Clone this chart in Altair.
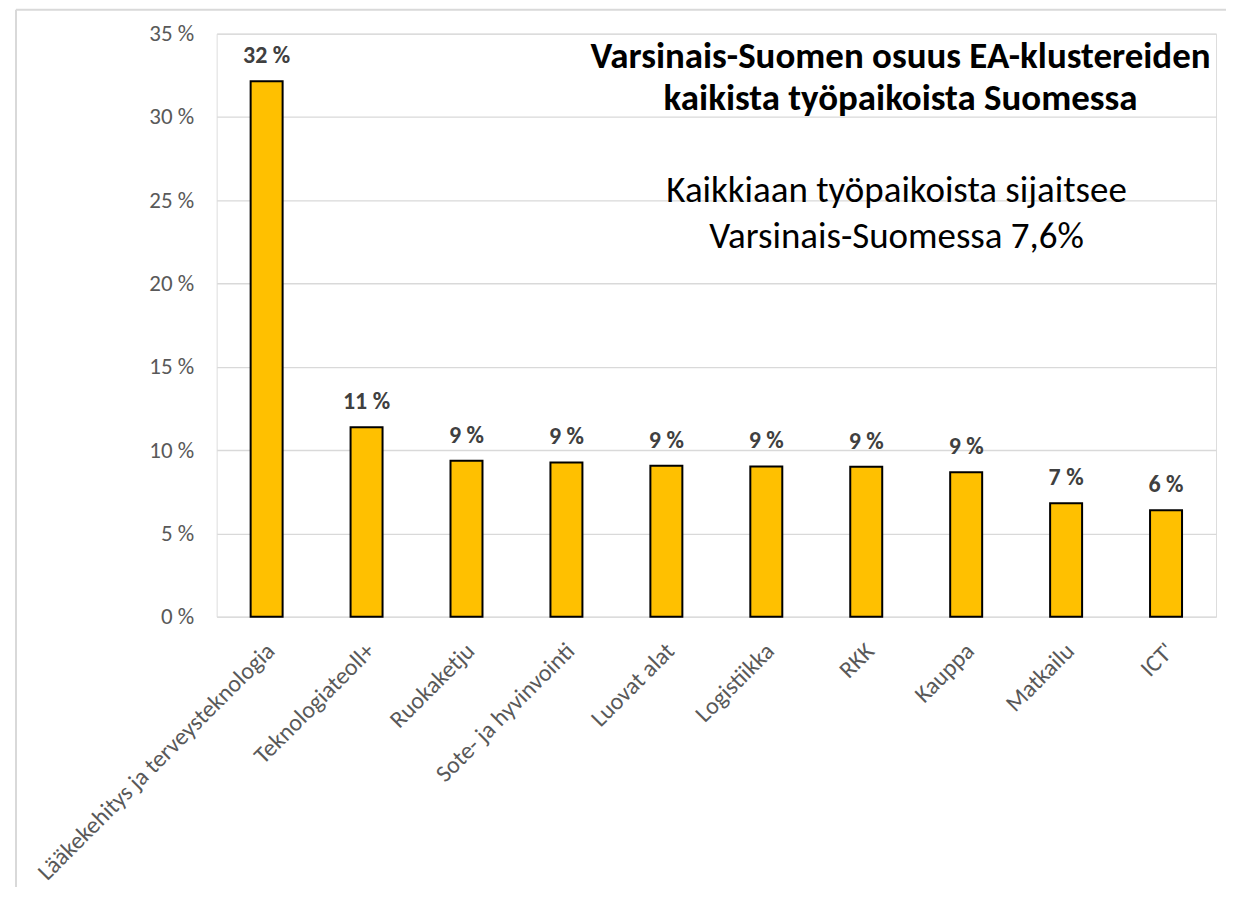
import altair as alt
import pandas as pd

categories = ["Lääkekehitys ja terveysteknologia", "Teknologiateoll+", "Ruokaketju",
              "Sote- ja hyvinvointi", "Luovat alat", "Logistiikka", "RKK", "Kauppa",
              "Matkailu", "ICT'"]
values = [32.15, 11.38, 9.36, 9.26, 9.06, 9.02, 9.0, 8.68, 6.81, 6.39]
y_ticks = [0, 5, 10, 15, 20, 25, 30, 35]
title_lines = ["Varsinais-Suomen osuus EA-klustereiden", "kaikista työpaikoista Suomessa"]
note_lines = ["Kaikkiaan työpaikoista sijaitsee", "Varsinais-Suomessa 7,6%"]

df = pd.DataFrame({"cat": categories, "val": values})
df["label"] = [f"{round(v)} %" for v in values]
one = pd.DataFrame({"k": [0]})

FONT = "Carlito, Lato, sans-serif"
W, H = 1001, 584

x = alt.X("cat:N", sort=categories, title=None,
          scale=alt.Scale(paddingInner=0.68, paddingOuter=0.34),
          axis=alt.Axis(labelAngle=-45, labelFontSize=24, labelColor="#595959",
                        labelFont=FONT, ticks=False, domain=False, labelPadding=22,
                        labelOffset=-4, labelLimit=600))
y = alt.Y("val:Q", title=None,
          scale=alt.Scale(domain=[0, 35], nice=False),
          axis=alt.Axis(values=y_ticks, labelExpr="datum.value + ' %'", labelFontSize=23,
                        labelColor="#595959", labelFont=FONT, ticks=False, domain=False,
                        labelPadding=23, gridColor="#D9D9D9", gridWidth=1.3))

bars = alt.Chart(df).mark_bar(color="#FFC000", stroke="#000000", strokeWidth=2).encode(x=x, y=y)
labels = alt.Chart(df).mark_text(baseline="alphabetic", dy=-18, fontSize=24, fontWeight="bold",
                                 color="#404040", font=FONT).encode(x=x, y=y, text="label:N")

title = alt.Chart(one).mark_text(text=title_lines, fontSize=37, fontWeight="bold", color="#000000",
                                 font=FONT, align="center", baseline="middle", lineHeight=42).encode(
    x=alt.value(685), y=alt.value(23))
note = alt.Chart(one).mark_text(text=note_lines, fontSize=37, fontWeight="normal", color="#000000",
                                font=FONT, align="center", baseline="middle", lineHeight=46).encode(
    x=alt.value(681), y=alt.value(158))

border_left = alt.Chart(one).mark_rule(color="#D9D9D9", strokeWidth=2).encode(
    x=alt.value(-201), y=alt.value(-24), y2=alt.value(900))
border_top = alt.Chart(one).mark_rule(color="#D9D9D9", strokeWidth=2).encode(
    x=alt.value(-201), x2=alt.value(1030), y=alt.value(-24))

chart = alt.layer(border_left, border_top, bars, labels, title, note).properties(
    width=W, height=H,
    autosize=alt.AutoSizeParams(type="none"),
    padding={"left": 209, "top": 25, "right": 10, "bottom": 270},
).configure_view(stroke=None).configure(background="#FFFFFF")

chart.save("out.html", embed_options={"renderer": "svg", "actions": False})
